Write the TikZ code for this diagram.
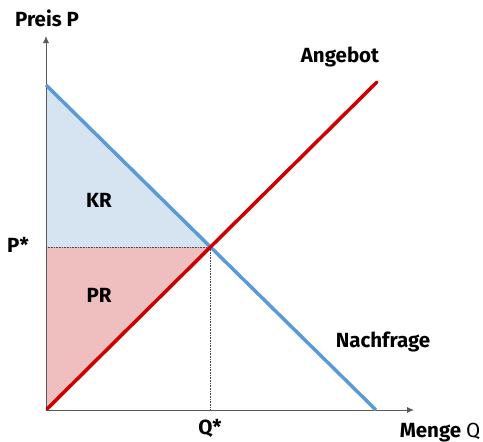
\documentclass[tikz,border=0pt]{standalone}
\usepackage{fontspec}
\setmainfont{Fira Sans}
\usetikzlibrary{arrows.meta}
\definecolor{dblue}{RGB}{91,155,213}
\definecolor{lblue}{RGB}{214,228,242}
\definecolor{dred}{RGB}{204,0,0}
\definecolor{lred}{RGB}{239,190,190}
\definecolor{axisgray}{RGB}{90,90,90}
\tikzset{
  lbl/.style={font=\fontsize{20.5}{24}\selectfont\bfseries, inner sep=0pt},
  axis/.style={draw=axisgray, line width=0.9pt, -{Latex[length=7pt,width=6pt]}},
  curve/.style={line width=3.5pt},
  guide/.style={densely dotted, line width=0.6pt, black!70}
}
\begin{document}
\begin{tikzpicture}[x=1pt,y=-1pt]
\useasboundingbox (0,0) rectangle (483,442);
\coordinate (O) at (46,410);
\coordinate (Ytop) at (46,36);
\coordinate (Xend) at (414,410);
\coordinate (Dstart) at (46,85);
\coordinate (Dend) at (376,410);
\coordinate (Sstart) at (47,409);
\coordinate (Send) at (377,82);
\coordinate (E) at (210,247);
\coordinate (Pstar) at (46,247);
\coordinate (Qstar) at (210,410);
% fills
\fill[lblue] (Dstart) -- (E) -- (Pstar) -- cycle;
\fill[lred] (Pstar) -- (E) -- (O) -- cycle;
% guides
\draw[guide] (Pstar) -- (E);
\draw[guide] (E) -- (Qstar);
% axes
\draw[axis] (O) -- (Ytop);
\draw[axis] (O) -- (Xend);
% curves
\draw[curve, dblue] (Dstart) -- (Dend);
\draw[curve, dred, line cap=round] (Sstart) -- (Send);
% labels
\node[lbl] (preis) at (47,18) {Preis P};
\node[lbl] (angebot) at (340,57) {Angebot};
\node[lbl] (kr) at (99,200) {KR};
\node[lbl] (pr) at (99,295) {PR};
\node[lbl] (pst) at (18,245) {P*};
\node[lbl] (qst) at (210,428) {Q*};
\node[lbl] (nachfrage) at (383,342) {Nachfrage};
\node[lbl] (menge) at (440,433) {Menge \mdseries Q};
\end{tikzpicture}
\end{document}
